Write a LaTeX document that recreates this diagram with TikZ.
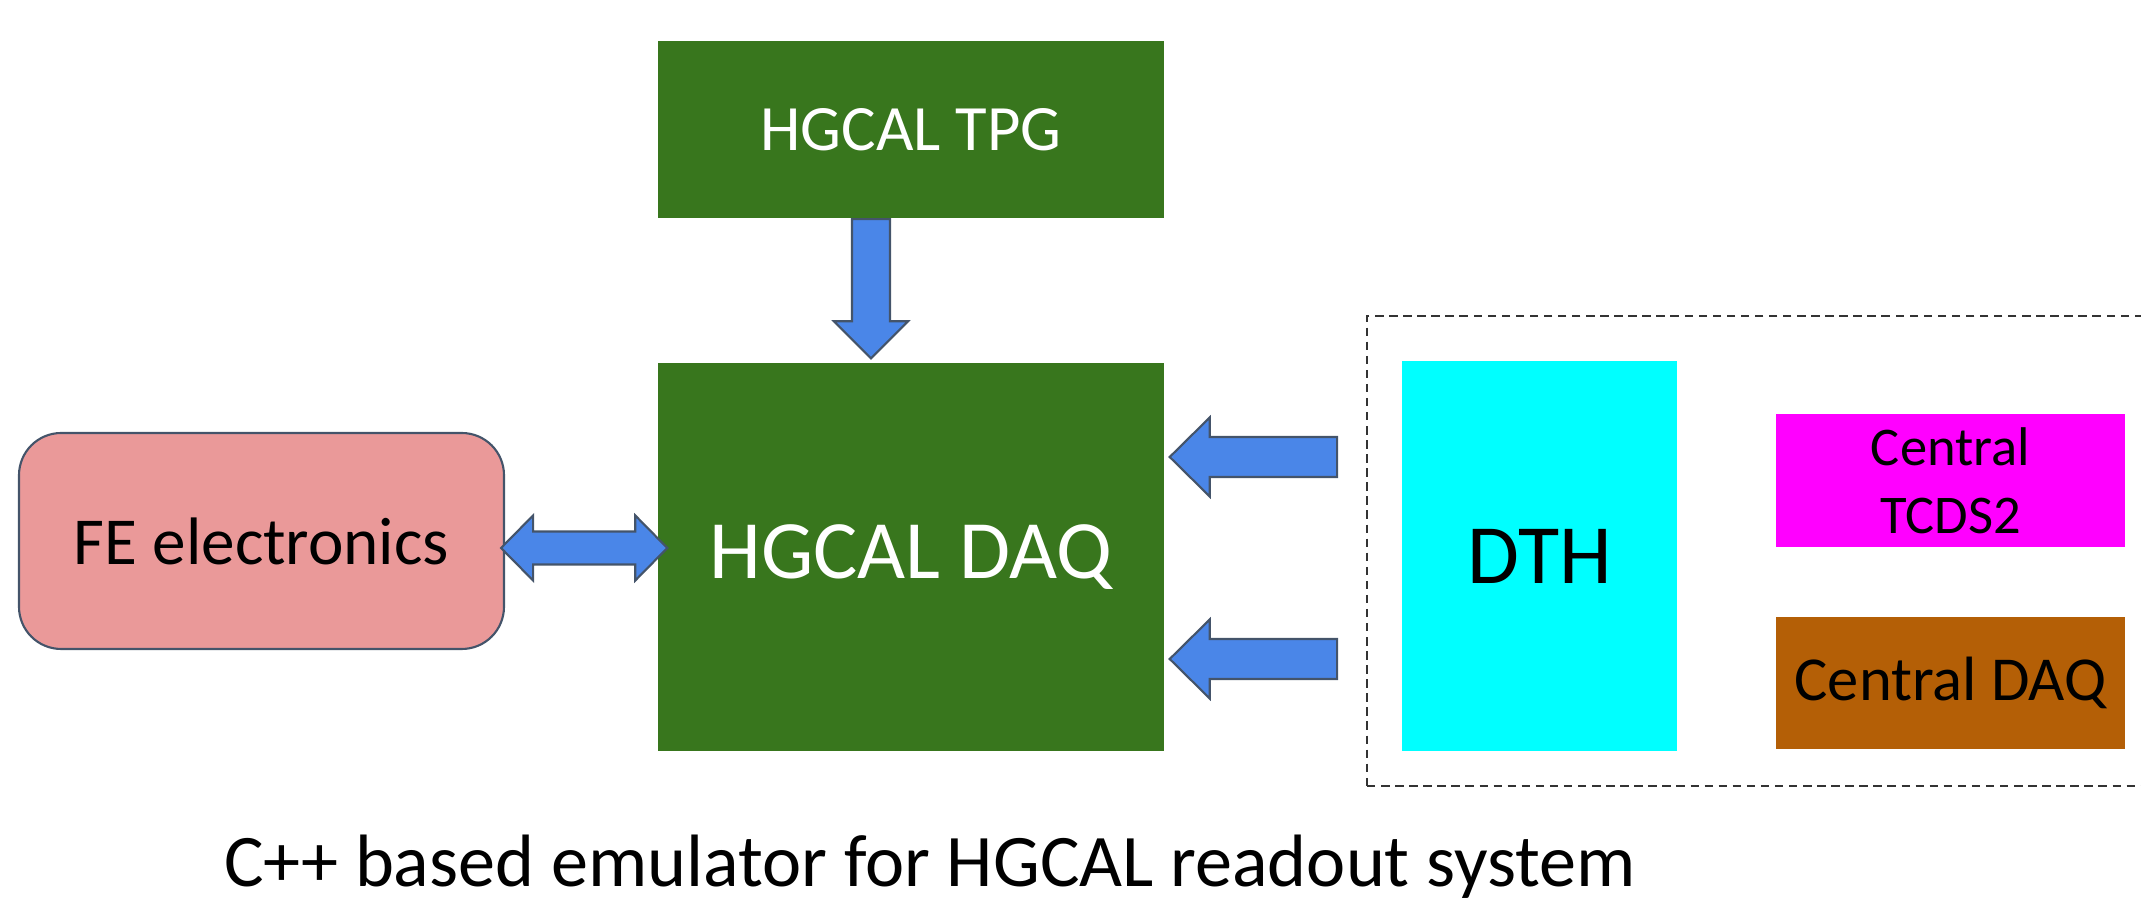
\documentclass[tikz,border=0pt]{standalone}
\usepackage{fontspec}
\setmainfont{Carlito}
\usetikzlibrary{calc}
\definecolor{dgreen}{HTML}{38761D}
\definecolor{fepink}{HTML}{EA9999}
\definecolor{edgeblue}{HTML}{44546A}
\definecolor{arrowblue}{HTML}{4A86E8}
\definecolor{dbrown}{HTML}{B45F06}
\definecolor{pcyan}{HTML}{00FFFF}
\definecolor{pmagenta}{HTML}{FF00FF}
\newcommand{\fs}[1]{\fontsize{#1pt}{1.25\dimexpr#1pt\relax}\selectfont}
\tikzset{
  greenbox/.style={rectangle, fill=dgreen, draw=none, text=white, inner sep=0pt, align=center},
  febox/.style={rectangle, rounded corners=12pt, fill=fepink, draw=edgeblue, line width=0.6pt, inner sep=0pt, align=center},
  flatbox/.style={rectangle, draw=none, inner sep=0pt, align=center, text=black},
  fat/.style={fill=arrowblue, draw=edgeblue, line width=0.6pt, line join=miter},
  dashbox/.style={rectangle, draw=black!80, dashed, dash pattern=on 2.4pt off 1.6pt, line width=0.5pt, inner sep=0pt}
}
\begin{document}
\begin{tikzpicture}[x=0.01cm, y=-0.01cm]
\useasboundingbox (0,0) rectangle (2141,901);
% boxes
\node[greenbox, minimum width=506*0.01cm, minimum height=177*0.01cm, font=\fs{18.4}] (tpg) at (911,130) {HGCAL TPG};
\node[greenbox, minimum width=506*0.01cm, minimum height=388*0.01cm, font=\fs{23.6}] (daq) at (911,557) {HGCAL DAQ};
\node[febox, minimum width=485*0.01cm, minimum height=216*0.01cm, font=\fs{19.1}] (fe) at (261.5,541) {FE electronics};
\node[dashbox, minimum width=779*0.01cm, minimum height=470*0.01cm] (dbox) at (1756.5,551) {};
\node[flatbox, fill=pcyan, minimum width=275*0.01cm, minimum height=390*0.01cm, font=\fs{24}] (dth) at (1539.5,556) {DTH};
\node[flatbox, fill=pmagenta, minimum width=349*0.01cm, minimum height=133*0.01cm, font=\fs{15.5}] (tcds) at (1950.5,480.5) {Central\\TCDS2};
\node[flatbox, fill=dbrown, minimum width=349*0.01cm, minimum height=132*0.01cm, font=\fs{17.8}] (cdaq) at (1950.5,683) {Central DAQ};
% caption
\node[anchor=base, inner sep=0pt, font=\fs{21.1}] (cap) at (930,887) {C++ based emulator for HGCAL readout system};
% down arrow TPG -> DAQ
\coordinate (d0) at ($(tpg.south)+(-40,0)$);
\coordinate (d1) at ($(daq.north)+(-40,-4)$);
\draw[fat] ($(d0)+(-19,0)$) -- ($(d0)+(19,0)$) -- ($(d1)+(19,-37)$) -- ($(d1)+(37,-37)$) -- (d1) -- ($(d1)+(-37,-37)$) -- ($(d1)+(-19,-37)$) -- cycle;
% double arrow FE <-> DAQ
\coordinate (bl) at ($(fe.east |- 0,548)+(-4,0)$);
\coordinate (br) at ($(daq.west |- 0,548)+(10,0)$);
\draw[fat] (bl) -- ($(bl)+(32,-32.5)$) -- ($(bl)+(32,-16.5)$) -- ($(br)+(-32,-16.5)$) -- ($(br)+(-32,-32.5)$) -- (br) -- ($(br)+(-32,32.5)$) -- ($(br)+(-32,16.5)$) -- ($(bl)+(32,16.5)$) -- ($(bl)+(32,32.5)$) -- cycle;
% left arrows DTH side -> DAQ
\foreach \yy/\nm in {457/la, 659/lb}{
  \coordinate (\nm t) at ($(daq.east |- 0,\yy)+(5,0)$);
  \coordinate (\nm s) at ($(dbox.west |- 0,\yy)+(-29,0)$);
  \draw[fat] (\nm t) -- ($(\nm t)+(40,-39.5)$) -- ($(\nm t)+(40,-20)$) -- ($(\nm s)+(0,-20)$) -- ($(\nm s)+(0,20)$) -- ($(\nm t)+(40,20)$) -- ($(\nm t)+(40,39.5)$) -- cycle;
}
\end{tikzpicture}
\end{document}
